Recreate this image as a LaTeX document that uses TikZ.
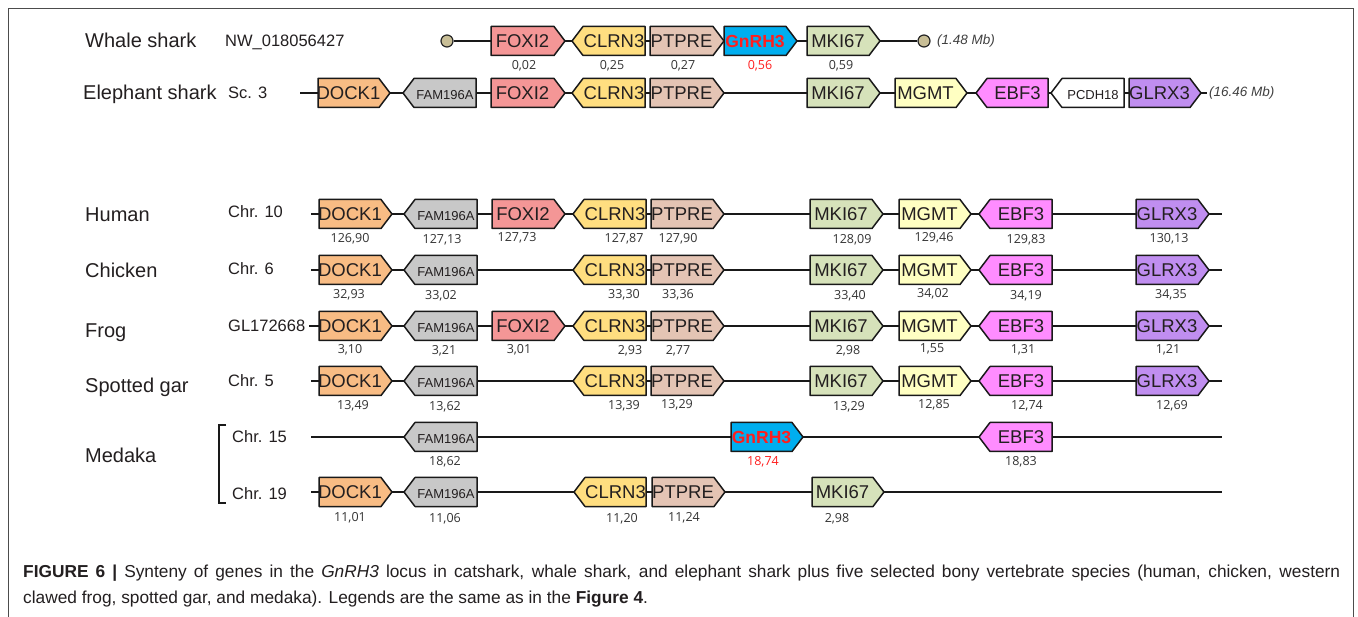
\documentclass[tikz,border=0pt]{standalone}
\usepackage{fontspec}
\setmainfont{Liberation Sans}
\newfontfamily\numfont{Open Sans}
\definecolor{cDOCK}{RGB}{248,188,132}
\definecolor{cFAM}{RGB}{200,200,200}
\definecolor{cFOXI}{RGB}{244,150,150}
\definecolor{cCLRN}{RGB}{255,222,128}
\definecolor{cPTPRE}{RGB}{228,196,180}
\definecolor{cGNRH}{RGB}{0,174,239}
\definecolor{cMKI}{RGB}{214,226,186}
\definecolor{cMGMT}{RGB}{255,255,194}
\definecolor{cEBF}{RGB}{255,140,255}
\definecolor{cPCDH}{RGB}{255,255,255}
\definecolor{cGLRX}{RGB}{192,142,240}
\definecolor{cKhaki}{RGB}{200,190,150}
\definecolor{cRed}{RGB}{255,30,30}
\definecolor{cText}{RGB}{35,31,32}
\tikzset{
  genebody/.style={draw=black!90, line width=1.5pt, line join=round},
  genelabel/.style={font=\fontsize{18.5}{20}\selectfont, text=cText, inner sep=0pt, text height=13.2pt, text depth=0pt},
  smalllabel/.style={font=\fontsize{13}{15}\selectfont},
  gnrhlabel/.style={font=\bfseries\fontsize{17.5}{20}\selectfont, text=cRed},
  num/.style={font=\numfont\fontsize{12.5}{14}\selectfont, text=black!80, inner sep=0pt, text height=9pt, text depth=0pt},
  rednum/.style={num, text=cRed},
  species/.style={font=\fontsize{20}{22}\selectfont, text=cText, anchor=base west, inner sep=0pt},
  chrom/.style={font=\fontsize{16.5}{18}\selectfont, text=cText, anchor=base west, inner sep=0pt},
  size/.style={font=\itshape\fontsize{13.5}{15}\selectfont, text=black!75, anchor=west, inner sep=0pt},
  backbone/.style={draw=black!90, line width=1.3pt},
  endcircle/.style={circle, draw=black!85, fill=cKhaki, minimum size=12pt, inner sep=0pt, line width=1.2pt},
  frameline/.style={draw=black!70, line width=1pt},
  caption/.style={font=\fontsize{17.3}{20}\selectfont, text=cText, anchor=base west, inner sep=0pt}
}
% id, y, x1, x2, dir (r/l), fill, label, extra label style
\newcommand{\gene}[8]{%
  \ifx r#5%
    \path[genebody, fill=#6] (#3,#2-14.5) -- (#4,#2-14.5) -- (#4+11,#2) -- (#4,#2+14.5) -- (#3,#2+14.5) -- cycle;
  \else
    \path[genebody, fill=#6] (#3-11,#2) -- (#3,#2-14.5) -- (#4,#2-14.5) -- (#4,#2+14.5) -- (#3,#2+14.5) -- cycle;
  \fi
  \node[genelabel,#8] (#1) at ({(#3+#4)/2},#2) {#7};
}
\begin{document}
\begin{tikzpicture}[x=1pt,y=-1pt]
\useasboundingbox (0,0) rectangle (1358,617);
\fill[white] (0,0) rectangle (1358,617);
% frame
\coordinate (f1) at (8,630);
\coordinate (f2) at (8,9);
\coordinate (f3) at (1353,9);
\coordinate (f4) at (1353,630);
\draw[frameline] (f1) -- (f2) -- (f3) -- (f4);

% ---------------- Whale shark
\node[species] (spW) at (85,48) {Whale shark};
\node[chrom] (chW) at (225,47) {NW\_018056427};
\node[endcircle] (w0) at (447,41) {};
\node[endcircle] (w1) at (924,41) {};
\draw[backbone] (w0) -- (w1);
\gene{wFOXI}{41}{491}{554}{r}{cFOXI}{FOXI2}{}
\gene{wCLRN}{41}{583}{645}{l}{cCLRN}{CLRN3}{}
\gene{wPTPRE}{41}{650}{713}{r}{cPTPRE}{PTPRE}{}
\gene{wGNRH}{41}{724}{786}{r}{cGNRH}{GnRH3}{gnrhlabel}
\gene{wMKI}{41}{807}{869}{r}{cMKI}{MKI67}{}
\node[size] (wsize) at (937,41) {(1.48 Mb)};
\node[num] (wn1) at (524,65) {0,02};
\node[num] (wn2) at (612,65) {0,25};
\node[num] (wn3) at (683,65) {0,27};
\node[rednum] (wn4) at (760,65) {0,56};
\node[num] (wn5) at (841,65) {0,59};

% ---------------- Elephant shark
\node[species] (spE) at (83,100) {Elephant shark};
\node[chrom] (chE) at (228,99) {Sc. 3};
\coordinate (es) at (300,93);
\coordinate (ee) at (1207,93);
\draw[backbone] (es) -- (ee);
\gene{eDOCK}{93}{318}{379}{r}{cDOCK}{DOCK1}{}
\gene{eFAM}{93}{414}{476}{l}{cFAM}{FAM196A}{smalllabel}
\gene{eFOXI}{93}{491}{554}{r}{cFOXI}{FOXI2}{}
\gene{eCLRN}{93}{583}{645}{l}{cCLRN}{CLRN3}{}
\gene{ePTPRE}{93}{650}{713}{r}{cPTPRE}{PTPRE}{}
\gene{eMKI}{93}{807}{869}{r}{cMKI}{MKI67}{}
\gene{eMGMT}{93}{895}{956}{r}{cMGMT}{MGMT}{}
\gene{eEBF}{93}{987}{1048}{l}{cEBF}{EBF3}{}
\gene{ePCDH}{93}{1062}{1124}{l}{cPCDH}{PCDH18}{smalllabel}
\gene{eGLRX}{93}{1129}{1190}{r}{cGLRX}{GLRX3}{}
\node[size] (esize) at (1209,93) {(16.46 Mb)};

% ---------------- Human
\node[species] (spH) at (85,222) {Human};
\node[chrom] (chH) at (228,218) {Chr. 10};
\coordinate (hs) at (311,214);
\coordinate (he) at (1222,214);
\draw[backbone] (hs) -- (he);
\gene{hDOCK}{214}{319}{381}{r}{cDOCK}{DOCK1}{}
\gene{hFAM}{214}{415}{477}{l}{cFAM}{FAM196A}{smalllabel}
\gene{hFOXI}{214}{492}{554}{r}{cFOXI}{FOXI2}{}
\gene{hCLRN}{214}{584}{646}{l}{cCLRN}{CLRN3}{}
\gene{hPTPRE}{214}{651}{713}{r}{cPTPRE}{PTPRE}{}
\gene{hMKI}{214}{810}{872}{r}{cMKI}{MKI67}{}
\gene{hMGMT}{214}{899}{960}{r}{cMGMT}{MGMT}{}
\gene{hEBF}{214}{990}{1052}{l}{cEBF}{EBF3}{}
\gene{hGLRX}{214}{1136}{1198}{r}{cGLRX}{GLRX3}{}
\node[num] (hn1) at (350,238) {126,90};
\node[num] (hn2) at (442,239) {127,13};
\node[num] (hn3) at (517,237) {127,73};
\node[num] (hn4) at (624,238) {127,87};
\node[num] (hn5) at (678,238) {127,90};
\node[num] (hn6) at (852,239) {128,09};
\node[num] (hn7) at (934,237) {129,46};
\node[num] (hn8) at (1026,239) {129,83};
\node[num] (hn9) at (1169,238) {130,13};

% ---------------- Chicken
\node[species] (spC) at (85,278) {Chicken};
\node[chrom] (chC) at (228,275) {Chr. 6};
\coordinate (cs) at (311,270);
\coordinate (ce) at (1222,270);
\draw[backbone] (cs) -- (ce);
\gene{cDOCK}{270}{319}{381}{r}{cDOCK}{DOCK1}{}
\gene{cFAM}{270}{415}{477}{l}{cFAM}{FAM196A}{smalllabel}
\gene{cCLRN}{270}{584}{646}{l}{cCLRN}{CLRN3}{}
\gene{cPTPRE}{270}{651}{713}{r}{cPTPRE}{PTPRE}{}
\gene{cMKI}{270}{810}{872}{r}{cMKI}{MKI67}{}
\gene{cMGMT}{270}{899}{960}{r}{cMGMT}{MGMT}{}
\gene{cEBF}{270}{990}{1052}{l}{cEBF}{EBF3}{}
\gene{cGLRX}{270}{1136}{1198}{r}{cGLRX}{GLRX3}{}
\node[num] (cn1) at (349,294) {32,93};
\node[num] (cn2) at (441,295) {33,02};
\node[num] (cn3) at (624,294) {33,30};
\node[num] (cn4) at (678,294) {33,36};
\node[num] (cn5) at (850,295) {33,40};
\node[num] (cn6) at (933,293) {34,02};
\node[num] (cn7) at (1026,295) {34,19};
\node[num] (cn8) at (1171,294) {34,35};

% ---------------- Frog
\node[species] (spF) at (85,338) {Frog};
\node[chrom] (chF) at (228,332) {GL172668};
\coordinate (fs) at (309,326);
\coordinate (fe) at (1222,326);
\draw[backbone] (fs) -- (fe);
\gene{fDOCK}{326}{319}{381}{r}{cDOCK}{DOCK1}{}
\gene{fFAM}{326}{415}{477}{l}{cFAM}{FAM196A}{smalllabel}
\gene{fFOXI}{326}{492}{554}{r}{cFOXI}{FOXI2}{}
\gene{fCLRN}{326}{584}{646}{l}{cCLRN}{CLRN3}{}
\gene{fPTPRE}{326}{651}{713}{r}{cPTPRE}{PTPRE}{}
\gene{fMKI}{326}{810}{872}{r}{cMKI}{MKI67}{}
\gene{fMGMT}{326}{899}{960}{r}{cMGMT}{MGMT}{}
\gene{fEBF}{326}{990}{1052}{l}{cEBF}{EBF3}{}
\gene{fGLRX}{326}{1136}{1198}{r}{cGLRX}{GLRX3}{}
\node[num] (fn1) at (350,349) {3,10};
\node[num] (fn2) at (444,350) {3,21};
\node[num] (fn3) at (519,349) {3,01};
\node[num] (fn4) at (630,350) {2,93};
\node[num] (fn5) at (678,350) {2,77};
\node[num] (fn6) at (848,350) {2,98};
\node[num] (fn7) at (932,348) {1,55};
\node[num] (fn8) at (1023,349) {1,31};
\node[num] (fn9) at (1168,349) {1,21};

% ---------------- Spotted gar
\node[species] (spG) at (85,393) {Spotted gar};
\node[chrom] (chG) at (228,387) {Chr. 5};
\coordinate (gs) at (311,381);
\coordinate (ge) at (1222,381);
\draw[backbone] (gs) -- (ge);
\gene{gDOCK}{381}{319}{381}{r}{cDOCK}{DOCK1}{}
\gene{gFAM}{381}{415}{477}{l}{cFAM}{FAM196A}{smalllabel}
\gene{gCLRN}{381}{584}{646}{l}{cCLRN}{CLRN3}{}
\gene{gPTPRE}{381}{651}{713}{r}{cPTPRE}{PTPRE}{}
\gene{gMKI}{381}{810}{872}{r}{cMKI}{MKI67}{}
\gene{gMGMT}{381}{899}{960}{r}{cMGMT}{MGMT}{}
\gene{gEBF}{381}{990}{1052}{l}{cEBF}{EBF3}{}
\gene{gGLRX}{381}{1136}{1198}{r}{cGLRX}{GLRX3}{}
\node[num] (gn1) at (353,405) {13,49};
\node[num] (gn2) at (445,406) {13,62};
\node[num] (gn3) at (624,405) {13,39};
\node[num] (gn4) at (677,404) {13,29};
\node[num] (gn5) at (849,406) {13,29};
\node[num] (gn6) at (934,404) {12,85};
\node[num] (gn7) at (1027,405) {12,74};
\node[num] (gn8) at (1172,405) {12,69};

% ---------------- Medaka
\node[species] (spM) at (85,463) {Medaka};
\coordinate (br1) at (226,425);
\coordinate (br2) at (219,425);
\coordinate (br3) at (219,503);
\coordinate (br4) at (226,503);
\draw[line width=2.6pt, black!90] (br1) -- (br2) -- (br3) -- (br4);
\node[chrom] (chM1) at (232,443) {Chr. 15};
\node[chrom] (chM2) at (232,500) {Chr. 19};
\coordinate (m1s) at (311,437);
\coordinate (m1e) at (1222,437);
\draw[backbone] (m1s) -- (m1e);
\gene{mFAMa}{437}{415}{477}{l}{cFAM}{FAM196A}{smalllabel}
\gene{mGNRH}{437}{731}{792}{r}{cGNRH}{GnRH3}{gnrhlabel}
\gene{mEBF}{437}{990}{1052}{l}{cEBF}{EBF3}{}
\node[num] (mn1) at (445,461) {18,62};
\node[rednum] (mn2) at (763,461) {18,74};
\node[num] (mn3) at (1021,461) {18,83};
\coordinate (m2s) at (311,492);
\coordinate (m2e) at (1222,492);
\draw[backbone] (m2s) -- (m2e);
\gene{mDOCK}{492}{319}{381}{r}{cDOCK}{DOCK1}{}
\gene{mFAMb}{492}{415}{477}{l}{cFAM}{FAM196A}{smalllabel}
\gene{mCLRN}{492}{585}{646}{l}{cCLRN}{CLRN3}{}
\gene{mPTPRE}{492}{652}{714}{r}{cPTPRE}{PTPRE}{}
\gene{mMKI}{492}{812}{873}{r}{cMKI}{MKI67}{}
\node[num] (mn4) at (350,517) {11,01};
\node[num] (mn5) at (445,518) {11,06};
\node[num] (mn6) at (622,518) {11,20};
\node[num] (mn7) at (684,517) {11,24};
\node[num] (mn8) at (837,518) {2,98};

% ---------------- Caption
\node[caption] (cap1) at (23,577) {\makebox[1317pt][s]{\textbf{FIGURE 6 |} Synteny of genes in the \textit{GnRH3} locus in catshark, whale shark, and elephant shark plus five selected bony vertebrate species (human, chicken, western}};
\node[caption] (cap2) at (23,603) {clawed frog, spotted gar, and medaka). Legends are the same as in the \textbf{Figure 4}.};
\end{tikzpicture}
\end{document}
